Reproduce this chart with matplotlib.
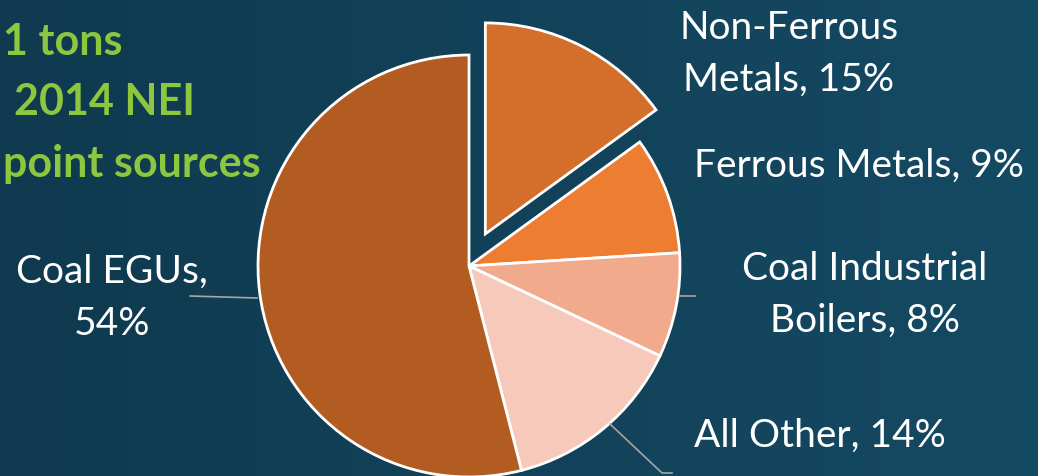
import matplotlib
matplotlib.use('Agg')
import matplotlib.pyplot as plt
import numpy as np
from matplotlib.colors import LinearSegmentedColormap

# pie data, clockwise from 12 o'clock
labels = ["Non-Ferrous\nMetals, 15%", "Ferrous Metals, 9%", "Coal Industrial\nBoilers, 8%",
          "All Other, 14%", "Coal EGUs,\n54%"]
shares = [15, 9, 8, 14, 54]
colors = ["#D36E2B", "#ED7D31", "#F2AA8C", "#F6C9BA", "#B35C22"]

title_lines = ["1 tons", "2014 NEI", "point sources"]

W, H = 1038, 476
fig = plt.figure(figsize=(W / 100, H / 100), dpi=100)
ax = fig.add_axes([0, 0, 1, 1])

# background gradient
bg = LinearSegmentedColormap.from_list("bg", ["#0F3A4F", "#154A63"])
grad = np.linspace(0, 1, 256).reshape(1, -1)
ax.imshow(grad, cmap=bg, extent=[0, W, 0, H], aspect="auto", zorder=0)

cx, cy, r = 469, H - 266, 211
# explode is in data units (pixels here)
explode = [36, 0, 0, 0, 0]
ax.pie(shares, colors=colors, explode=explode, startangle=90, counterclock=False,
       center=(cx, cy), radius=r, frame=True,
       wedgeprops=dict(edgecolor="white", linewidth=2))
ax.set_xlim(0, W)
ax.set_ylim(0, H)
ax.set_aspect("equal")
ax.axis("off")

font = "Lato"
lab_kw = dict(color="white", fontsize=28, family=font, ha="center", va="center",
              linespacing=1.55)
ax.text(789, H - 54, labels[0], **lab_kw)
ax.text(859, H - 166, labels[1], **lab_kw)
ax.text(865, H - 295, labels[2], **lab_kw)
ax.text(820, H - 436, labels[3], **lab_kw)
ax.text(112, H - 298, labels[4], **lab_kw)

# leader lines
lc = "#A6A6A6"
ax.plot([190, 257], [H - 296, H - 298], color=lc, lw=1.2)
ax.plot([680, 695], [H - 296, H - 296], color=lc, lw=1.2)
ax.plot([610, 662, 672], [H - 424, H - 473, H - 473], color=lc, lw=1.2)

# title at the left edge
green = "#8DC63F"
t_kw = dict(color=green, fontsize=31, family=font, fontweight="bold", va="center")
ax.text(3, H - 42, title_lines[0], ha="left", **t_kw)
ax.text(195, H - 102, title_lines[1], ha="right", **t_kw)
ax.text(3, H - 164, title_lines[2], ha="left", **t_kw)

fig.savefig("out.png", dpi=100)
